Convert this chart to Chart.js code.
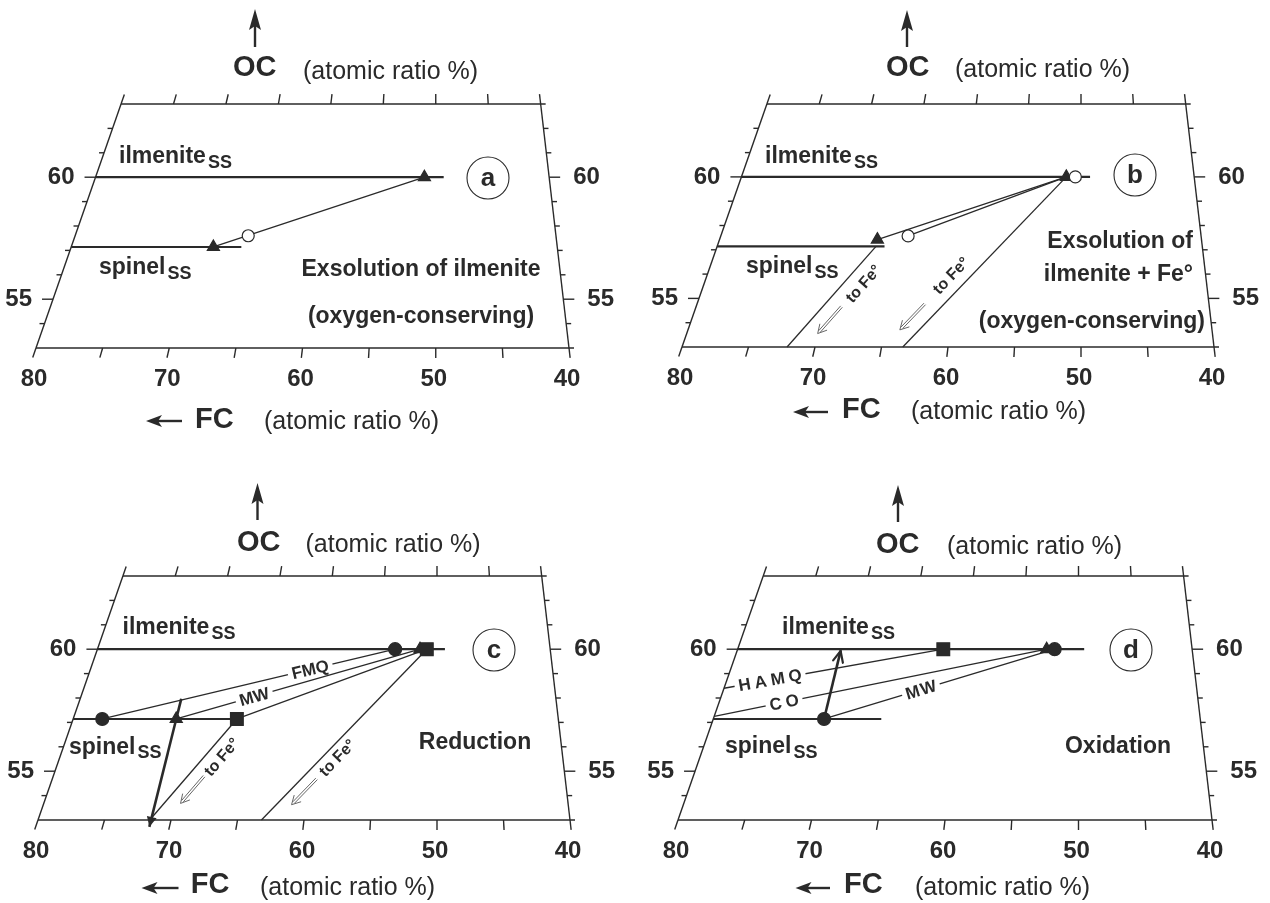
<!DOCTYPE html>
<html>
<head>
<meta charset="utf-8">
<script src="https://cdn.jsdelivr.net/npm/chart.js@4.4.1/dist/chart.umd.min.js"></script>
<style>
  body { margin: 0; background: #fff; }
  #wrap { position: relative; width: 1270px; height: 903px; }
  canvas { position: absolute; }
</style>
</head>
<body>
<div id="wrap">
  <canvas id="pa" width="635" height="440" style="left:0;top:0"></canvas>
  <canvas id="pb" width="635" height="440" style="left:635px;top:0"></canvas>
  <canvas id="pc" width="635" height="463" style="left:0;top:440px"></canvas>
  <canvas id="pd" width="635" height="463" style="left:635px;top:440px"></canvas>
</div>
<script>
// axes of the skewed ternary section (FC, OC in atomic %)
const FC_TICKS = [80, 75, 70, 65, 60, 55, 50, 45, 40];
const FC_LABELS = [80, 70, 60, 50, 40];
const OC_TICKS = [54, 55, 56, 57, 58, 59, 60, 61, 62];
const OC_LABELS = [55, 60];

// (a) exsolution of ilmenite, points as [FC, OC]
const aIlmenite = [[80, 60], [49.3, 60]];
const aSpinel = [[80, 57.14], [66.0, 57.14]];
const aTriangles = [[51.0, 60], [68.3, 57.14]];
const aBulk = [[65.6, 57.6]];
const aTie = [[51.0, 60], [68.3, 57.14]];

// (b) exsolution of ilmenite + Fe
const bIlmenite = [[80, 60], [49.2, 60]];
const bSpinel = [[80, 57.14], [66.2, 57.14]];
const bTriangles = [[51.3, 60], [66.9, 57.42]];
const bBulk = [[50.5, 60], [64.4, 57.57]];
const bTie = [[51.3, 60], [66.9, 57.42]];
const bTieBulk = [[51.3, 60], [64.4, 57.57]];
const bToFeIlm = [[51.3, 60], [63.4, 53]];
const bToFeSp = [[66.9, 57.14], [72.1, 53]];

// (c) reduction
const cIlmenite = [[80, 60], [49.3, 60]];
const cSpinel = [[80, 57.14], [66.5, 57.14]];
const cCircles = [[53.7, 60], [77.6, 57.14]];
const cTriangles = [[51.5, 60], [71.5, 57.14]];
const cSquares = [[50.9, 60], [66.5, 57.14]];
const cFMQ = [[53.7, 60], [77.6, 57.14]];
const cMW = [[51.5, 60], [71.5, 57.14]];
const cSqTie = [[50.9, 60], [66.5, 57.14]];
const cPath = [[71.5, 57.97], [71.5, 52.72]];
const cToFeSq = [[66.5, 57.14], [71.6, 53]];
const cToFeIlm = [[50.9, 60], [63.2, 53]];

// (d) oxidation
const dIlmenite = [[80, 60], [49.5, 60]];
const dSpinel = [[80, 57.14], [66.2, 57.14]];
const dSquares = [[61.9, 60]];
const dTriangles = [[52.8, 60]];
const dCircles = [[52.1, 60], [70.9, 57.14]];
const dHAMQ = [[61.9, 60], [80, 58.4]];
const dCO = [[52.8, 60], [80, 57.25]];
const dMW = [[52.1, 60], [70.9, 57.14]];
const dPath = [[70.9, 57.14], [70.9, 59.93]];

const INK = '#2a2a2a';
const FF = '"Liberation Sans", Arial, sans-serif';
const FONT_AXIS = 'bold 29px ' + FF;
const FONT_PAR = '25px ' + FF;
const FONT_TICK = 'bold 24px ' + FF;
const FONT_TEXT = 'bold 23px ' + FF;
const FONT_SUB = 'bold 18px ' + FF;
const FONT_TAG = 'bold 17px ' + FF;
const FONT_FE = 'bold 16px ' + FF;

// O apex at OC=100 sits above FC=50; x value = position along the OC=53 base
function proj(fc, oc) {
  return 50 + (fc - 50) * (100 - oc) / 47;
}
function pts(arr) {
  return arr.map(p => ({ x: proj(p[0], p[1]), y: p[1] }));
}

function line(arr, width, extra) {
  return Object.assign({
    data: pts(arr), showLine: true, pointRadius: 0, borderColor: INK,
    borderWidth: width, clip: false
  }, extra || {});
}
function marks(arr, style, r, fill) {
  return {
    data: pts(arr), showLine: false, pointStyle: style, pointRadius: r,
    backgroundColor: fill || INK, borderColor: INK, borderWidth: 1.2, clip: false
  };
}

function P(chart, fc, oc) {
  return { x: chart.scales.x.getPixelForValue(proj(fc, oc)), y: chart.scales.y.getPixelForValue(oc) };
}
function seg(ctx, a, b) {
  ctx.beginPath(); ctx.moveTo(a.x, a.y); ctx.lineTo(b.x, b.y); ctx.stroke();
}
function txt(ctx, s, x, y, font, align) {
  ctx.font = font; ctx.textAlign = align || 'left'; ctx.fillText(s, x, y);
}

function drawFrame(chart) {
  const ctx = chart.ctx;
  ctx.save();
  ctx.strokeStyle = INK; ctx.lineWidth = 1.4;
  const bl = P(chart, 80, 53), br = P(chart, 40, 53), tl = P(chart, 80, 63), tr = P(chart, 40, 63);
  seg(ctx, bl, { x: br.x + 5, y: br.y });
  seg(ctx, tl, { x: tr.x + 5, y: tr.y });
  seg(ctx, bl, tl);
  seg(ctx, br, tr);
  FC_TICKS.forEach(fc => {
    const b = P(chart, fc, 53), t = P(chart, fc, 63);
    const len = Math.hypot(b.x - t.x, b.y - t.y);
    const ux = (b.x - t.x) / len, uy = (b.y - t.y) / len;
    seg(ctx, b, { x: b.x + ux * 10, y: b.y + uy * 10 });
    seg(ctx, t, { x: t.x - ux * 10, y: t.y - uy * 10 });
  });
  OC_TICKS.forEach(oc => {
    const l = P(chart, 80, oc), r = P(chart, 40, oc);
    const len = OC_LABELS.includes(oc) ? 11 : 5;
    seg(ctx, l, { x: l.x - len, y: l.y });
    seg(ctx, r, { x: r.x + len, y: r.y });
  });
  ctx.fillStyle = INK; ctx.textBaseline = 'middle';
  OC_LABELS.forEach(oc => {
    const l = P(chart, 80, oc), r = P(chart, 40, oc);
    txt(ctx, String(oc), l.x - 21, l.y, FONT_TICK, 'right');
    txt(ctx, String(oc), r.x + 24, r.y, FONT_TICK, 'left');
  });
  FC_LABELS.forEach(fc => {
    const b = P(chart, fc, 53);
    txt(ctx, String(fc), b.x - 2, b.y + 31, FONT_TICK, 'center');
  });
  ctx.restore();
}

function spacedWidth(ctx, s, sp) {
  let w = 0;
  for (const ch of s) w += ctx.measureText(ch).width;
  return w + sp * (s.length - 1);
}
function spacedText(ctx, s, x, y, sp) {
  for (const ch of s) { ctx.fillText(ch, x, y); x += ctx.measureText(ch).width + sp; }
}

function drawTag(ctx, a, b, tag) {
  const cx = a.x + (b.x - a.x) * tag.t, cy = a.y + (b.y - a.y) * tag.t;
  let ang = Math.atan2(b.y - a.y, b.x - a.x);
  if (Math.cos(ang) < 0) ang += Math.PI;
  ctx.save();
  ctx.translate(cx, cy); ctx.rotate(ang);
  ctx.font = tag.font || FONT_TAG; ctx.textAlign = 'left'; ctx.textBaseline = 'middle';
  const w = spacedWidth(ctx, tag.text, tag.sp || 0);
  ctx.fillStyle = '#fff'; ctx.fillRect(-w / 2 - 4, -6, w + 8, 12);
  ctx.fillStyle = INK; spacedText(ctx, tag.text, -w / 2, 1, tag.sp || 0);
  ctx.restore();
}

function drawToFe(ctx, a, b, f) {
  const len = Math.hypot(b.x - a.x, b.y - a.y);
  const dx = (b.x - a.x) / len, dy = (b.y - a.y) / len;
  const nx = dy, ny = -dx;
  const tx = a.x + dx * len * f.t + nx * f.off, ty = a.y + dy * len * f.t + ny * f.off;
  ctx.save();
  ctx.translate(tx, ty); ctx.rotate(Math.atan2(-dy, -dx));
  ctx.font = FONT_FE; ctx.textAlign = 'center'; ctx.textBaseline = 'middle'; ctx.fillStyle = INK;
  ctx.fillText('to Fe°', 0, 0);
  ctx.restore();
  const mx = a.x + dx * len * f.at + nx * f.aoff, my = a.y + dy * len * f.at + ny * f.aoff;
  const tip = { x: mx + dx * 18, y: my + dy * 18 };
  ctx.save();
  ctx.strokeStyle = '#555'; ctx.lineWidth = 0.9;
  [-1.1, 1.1].forEach(s => {
    seg(ctx, { x: mx - dx * 18 + nx * s, y: my - dy * 18 + ny * s },
             { x: tip.x - dx * 3 + nx * s, y: tip.y - dy * 3 + ny * s });
  });
  [0.5, -0.5].forEach(r => {
    const c = Math.cos(r), s = Math.sin(r);
    const bx = -dx * c + dy * s, by = -dx * s - dy * c;
    seg(ctx, tip, { x: tip.x + bx * 10, y: tip.y + by * 10 });
  });
  ctx.restore();
}

function drawHead(ctx, a, b, kind) {
  const len = Math.hypot(b.x - a.x, b.y - a.y);
  const dx = (b.x - a.x) / len, dy = (b.y - a.y) / len;
  const nx = dy, ny = -dx;
  ctx.save();
  ctx.fillStyle = INK; ctx.strokeStyle = INK;
  if (kind === 'filled') {
    ctx.beginPath();
    ctx.moveTo(b.x, b.y);
    ctx.lineTo(b.x - dx * 10 + nx * 5, b.y - dy * 10 + ny * 5);
    ctx.lineTo(b.x - dx * 10 - nx * 5, b.y - dy * 10 - ny * 5);
    ctx.closePath(); ctx.fill();
  } else {
    ctx.lineWidth = 2.2; ctx.lineCap = 'round';
    seg(ctx, b, { x: b.x - dx * 11 + nx * 5, y: b.y - dy * 11 + ny * 5 });
    seg(ctx, b, { x: b.x - dx * 11 - nx * 5, y: b.y - dy * 11 - ny * 5 });
  }
  ctx.restore();
}

function upArrow(ctx, x, top, bot) {
  ctx.save();
  ctx.fillStyle = INK; ctx.strokeStyle = INK; ctx.lineWidth = 2.4;
  seg(ctx, { x: x, y: top + 14 }, { x: x, y: bot });
  ctx.beginPath();
  ctx.moveTo(x, top); ctx.lineTo(x + 6, top + 21); ctx.lineTo(x, top + 17); ctx.lineTo(x - 6, top + 21);
  ctx.closePath(); ctx.fill();
  ctx.restore();
}
function leftArrow(ctx, x0, x1, y) {
  ctx.save();
  ctx.fillStyle = INK; ctx.strokeStyle = INK; ctx.lineWidth = 2.4;
  seg(ctx, { x: x0 + 10, y: y }, { x: x1, y: y });
  ctx.beginPath();
  ctx.moveTo(x0, y); ctx.lineTo(x0 + 16, y - 6); ctx.lineTo(x0 + 12, y); ctx.lineTo(x0 + 16, y + 6);
  ctx.closePath(); ctx.fill();
  ctx.restore();
}

function drawOverlay(chart, L) {
  const ctx = chart.ctx, ca = chart.chartArea;
  const ox = ca.left, ot = ca.top, ob = ca.bottom;
  ctx.save();
  ctx.fillStyle = INK; ctx.textBaseline = 'middle';
  upArrow(ctx, ox + L.oc.ax, ot + L.oc.top, ot + L.oc.bot);
  txt(ctx, 'OC', ox + L.oc.x, ot + L.oc.y, FONT_AXIS);
  txt(ctx, '(atomic ratio %)', ox + L.oc.px, ot + L.oc.py, FONT_PAR);
  leftArrow(ctx, ox + L.fc.a0, ox + L.fc.a1, ob + L.fc.ay);
  txt(ctx, 'FC', ox + L.fc.x, ob + L.fc.y, FONT_AXIS);
  txt(ctx, '(atomic ratio %)', ox + L.fc.px, ob + L.fc.py, FONT_PAR);

  // phase names with subscript
  [['ilmenite', L.ilm], ['spinel', L.sp]].forEach(([name, pos]) => {
    ctx.font = FONT_TEXT;
    const w = ctx.measureText(name).width;
    txt(ctx, name, ox + pos[0], ot + pos[1], FONT_TEXT);
    txt(ctx, 'SS', ox + pos[0] + w + 2, ot + pos[1] + 6, FONT_SUB);
  });

  // circled panel letter
  ctx.strokeStyle = INK; ctx.lineWidth = 1.1;
  ctx.beginPath(); ctx.arc(ox + L.circ[0], ot + L.circ[1], 21, 0, Math.PI * 2); ctx.stroke();
  txt(ctx, L.letter, ox + L.circ[0], ot + L.circ[1] + 1, 'bold 26px ' + FF, 'center');

  L.notes.forEach(n => txt(ctx, n.s, ox + n.x, ot + n.y, FONT_TEXT, n.align));

  chart.data.datasets.forEach((ds, i) => {
    const pts = chart.getDatasetMeta(i).data;
    if (!pts.length) return;
    const a = pts[0], b = pts[pts.length - 1];
    if (ds.tag) drawTag(ctx, a, b, ds.tag);
    if (ds.toFe) drawToFe(ctx, a, b, ds.toFe);
    if (ds.head) drawHead(ctx, a, b, ds.head);
  });
  ctx.restore();
}

function makePanel(id, pad, datasets, L) {
  return new Chart(document.getElementById(id), {
    type: 'scatter',
    data: { datasets: datasets },
    options: {
      responsive: false,
      animation: false,
      events: [],
      layout: { padding: pad },
      scales: {
        x: { type: 'linear', min: 40, max: 80, reverse: true, display: false },
        y: { type: 'linear', min: 53, max: 63, display: false }
      },
      plugins: { legend: { display: false }, tooltip: { enabled: false } }
    },
    plugins: [{
      id: 'ternary',
      beforeDatasetsDraw(chart) { drawFrame(chart); },
      afterDatasetsDraw(chart) { drawOverlay(chart, L); }
    }]
  });
}

// (a)
makePanel('pa', { left: 36, right: 66, top: 104, bottom: 92 }, [
  marks(aBulk, 'circle', 6, '#fff'),
  marks(aTriangles, 'triangle', 7),
  line(aTie, 1.3),
  line(aIlmenite, 2.2),
  line(aSpinel, 2.2)
], {
  oc: { ax: 219, top: -95, bot: -57, x: 197, y: -36, px: 267, py: -32 },
  fc: { a0: 110, a1: 146, ay: 73, x: 159, y: 72, px: 228, py: 74 },
  ilm: [83, 53], sp: [63, 164], circ: [452, 74], letter: 'a',
  notes: [
    { s: 'Exsolution of ilmenite', x: 385, y: 166, align: 'center' },
    { s: '(oxygen-conserving)', x: 385, y: 213, align: 'center' }
  ]
});

// (b)
makePanel('pb', { left: 47, right: 56, top: 104, bottom: 93 }, [
  marks(bBulk, 'circle', 6, '#fff'),
  marks(bTriangles, 'triangle', 7),
  line(bTie, 1.3),
  line(bTieBulk, 1.3),
  line(bToFeIlm, 1.3, { toFe: { t: 0.64, off: -14, at: 0.88, aoff: -14 } }),
  line(bToFeSp, 1.3, { toFe: { t: 0.27, off: 16, at: 0.64, aoff: 14 } }),
  line(bIlmenite, 2.2),
  line(bSpinel, 2.2)
], {
  oc: { ax: 225, top: -94, bot: -57, x: 204, y: -36, px: 273, py: -34 },
  fc: { a0: 111, a1: 146, ay: 65, x: 160, y: 63, px: 229, py: 65 },
  ilm: [83, 53], sp: [64, 163], circ: [453, 71], letter: 'b',
  notes: [
    { s: 'Exsolution of', x: 511, y: 138, align: 'right' },
    { s: 'ilmenite + Fe°', x: 511, y: 171, align: 'right' },
    { s: '(oxygen-conserving)', x: 523, y: 218, align: 'right' }
  ]
});

// (c)
makePanel('pc', { left: 38, right: 65, top: 136, bottom: 83 }, [
  marks(cSquares, 'rect', 9),
  marks(cTriangles, 'triangle', 7),
  marks(cCircles, 'circle', 6.5),
  line(cPath, 2.6, { head: 'filled' }),
  line(cFMQ, 1.3, { tag: { text: 'FMQ', t: 0.29 } }),
  line(cMW, 1.3, { tag: { text: 'MW', t: 0.68 } }),
  line(cSqTie, 1.3),
  line(cToFeSq, 1.3, { toFe: { t: 0.29, off: 14, at: 0.62, aoff: 12.5 } }),
  line(cToFeIlm, 1.3, { toFe: { t: 0.59, off: 12, at: 0.79, aoff: 11 } }),
  line(cIlmenite, 2.2),
  line(cSpinel, 2.2)
], {
  oc: { ax: 219.5, top: -93, bot: -56, x: 199, y: -33, px: 267.5, py: -31 },
  fc: { a0: 103.5, a1: 140.5, ay: 68, x: 152.7, y: 65, px: 222, py: 68 },
  ilm: [84.5, 52], sp: [31, 171.5], circ: [456, 74], letter: 'c',
  notes: [
    { s: 'Reduction', x: 437, y: 167, align: 'center' }
  ]
});

// (d)
makePanel('pd', { left: 43, right: 58, top: 136, bottom: 83 }, [
  marks(dSquares, 'rect', 9),
  marks(dCircles, 'circle', 6.5),
  marks(dTriangles, 'triangle', 7),
  line(dPath, 2.6, { head: 'open' }),
  line(dHAMQ, 1.3, { tag: { text: 'HAMQ', t: 0.79, sp: 4 } }),
  line(dCO, 1.3, { tag: { text: 'CO', t: 0.79, sp: 4 } }),
  line(dMW, 1.3, { tag: { text: 'MW', t: 0.58, sp: 1 } }),
  line(dIlmenite, 2.2),
  line(dSpinel, 2.2)
], {
  oc: { ax: 220, top: -91, bot: -54, x: 198, y: -31, px: 269, py: -29 },
  fc: { a0: 117.5, a1: 152, ay: 68, x: 166, y: 65, px: 237, py: 68 },
  ilm: [104, 52], sp: [47, 171], circ: [453, 74], letter: 'd',
  notes: [
    { s: 'Oxidation', x: 440, y: 171, align: 'center' }
  ]
});
</script>
</body>
</html>
